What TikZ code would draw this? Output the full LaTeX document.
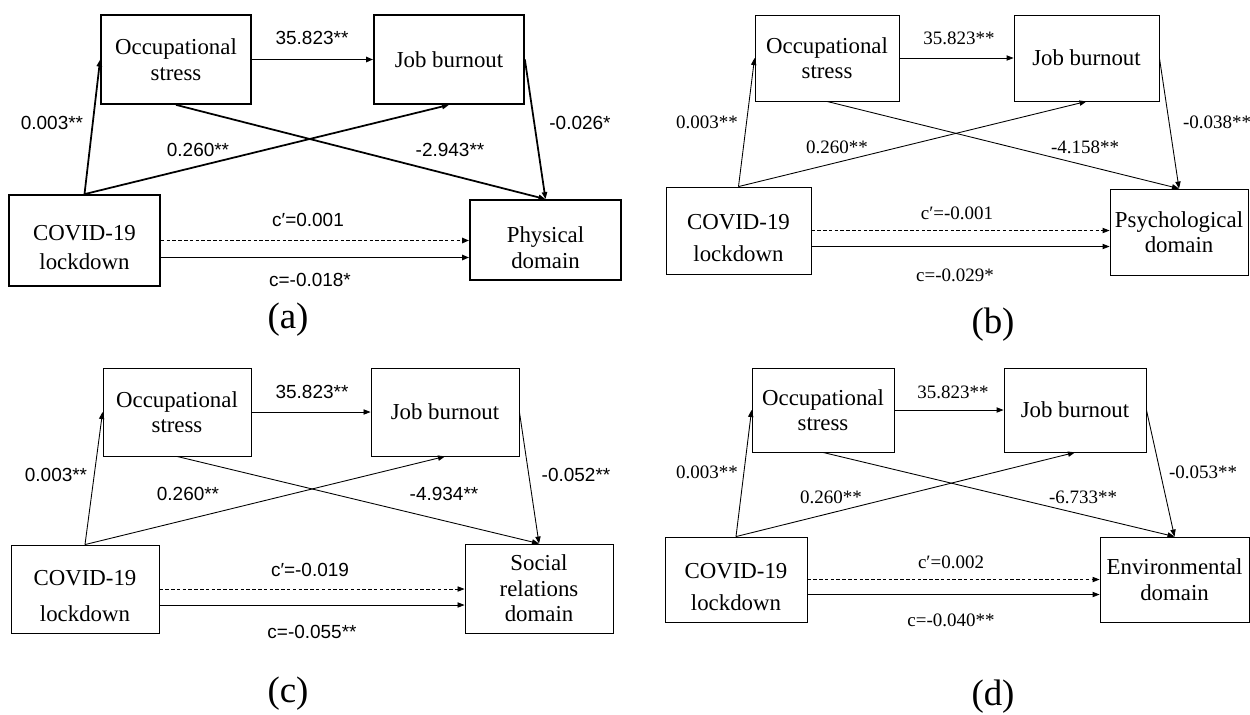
\documentclass[tikz,border=0pt]{standalone}
\usepackage{fontspec}
\setmainfont{Liberation Serif}
\newfontfamily\arialfont{Liberation Sans}
\usetikzlibrary{arrows.meta}
\newcommand\lowtext[1]{\rule{0pt}{#1pt}}
\tikzset{
  box/.style={draw, align=center, inner sep=0pt, font=\fontsize{13}{14.5}\selectfont},
  coef/.style={inner sep=1pt, font=\fontsize{10.8}{13}\selectfont},
  coefsans/.style={inner sep=1pt, font=\arialfont\fontsize{10.8}{13}\selectfont},
  arr/.style={-{Triangle[length=4pt,width=3pt]}},
  direct/.style={arr, dash pattern=on 2pt off 1.3pt},
  tag/.style={font=\fontsize{21}{24}\selectfont}
}
\begin{document}
\begin{tikzpicture}[x=0.02cm,y=-0.02cm]
\useasboundingbox (0,0) rectangle (1250,714);

\begin{scope}[line width=1pt]
  \node[box, minimum width=3cm, minimum height=1.78cm] (osA) at (176,59.5) {Occupational\\stress};
  \node[box, minimum width=3cm, minimum height=1.78cm] (jbA) at (449,59.5) {Job burnout};
  \node[box, minimum width=3.02cm, minimum height=1.82cm] (cvA) at (84.5,240.5) {\lowtext{17}COVID-19\\[2pt]lockdown};
  \node[box, minimum width=3.02cm, minimum height=1.6cm] (pdA) at (545.5,240) {\lowtext{18}Physical\\domain};
  \draw[arr] (cvA.north) -- (osA.west);
  \draw[arr] (osA.east) -- (jbA.west);
  \draw[arr] (cvA.north) -- (jbA.south);
  \draw[arr] (osA.south) -- (pdA.north);
  \draw[arr] (jbA.east) -- (pdA.north);
  \draw[direct] (cvA.east) -- (cvA.east -| pdA.west);
  \draw[arr] ([yshift=-0.34cm]cvA.east) -- ([yshift=-0.34cm]cvA.east -| pdA.west);
  \node[coefsans] (kA1) at (312,38) {35.823**};
  \node[coefsans] (kA2) at (52,123) {0.003**};
  \node[coefsans] (kA3) at (198,150) {0.260**};
  \node[coefsans] (kA4) at (450,150) {-2.943**};
  \node[coefsans] (kA5) at (580,123) {-0.026*};
  \node[coefsans] (kA6) at (308,220) {c′=0.001};
  \node[coefsans] (kA7) at (310,280) {c=-0.018*};
  \node[tag] (tagA) at (288,320) {(a)};
\end{scope}

\begin{scope}[line width=0.5pt]
  \node[box, minimum width=2.88cm, minimum height=1.72cm] (osB) at (827,58) {Occupational\\stress};
  \node[box, minimum width=2.9cm, minimum height=1.72cm] (jbB) at (1086.5,58) {Job burnout};
  \node[box, minimum width=2.9cm, minimum height=1.74cm] (cvB) at (738.5,230.5) {\lowtext{17}COVID-19\\[4pt]lockdown};
  \node[box, minimum width=2.76cm, minimum height=1.72cm] (pdB) at (1179,232) {Psychological\\domain};
  \draw[arr] (cvB.north) -- (osB.west);
  \draw[arr] (osB.east) -- (jbB.west);
  \draw[arr] (cvB.north) -- (jbB.south);
  \draw[arr] (osB.south) -- (pdB.north);
  \draw[arr] (jbB.east) -- (pdB.north);
  \draw[direct] (cvB.east) -- (cvB.east -| pdB.west);
  \draw[arr] ([yshift=-0.32cm]cvB.east) -- ([yshift=-0.32cm]cvB.east -| pdB.west);
  \node[coef] (kB1) at (959,38) {35.823**};
  \node[coef] (kB2) at (707,122) {0.003**};
  \node[coef] (kB3) at (837,147) {0.260**};
  \node[coef] (kB4) at (1085,147) {-4.158**};
  \node[coef] (kB5) at (1217,122) {-0.038**};
  \node[coef] (kB6) at (957,213) {c′=-0.001};
  \node[coef] (kB7) at (955,275) {c=-0.029*};
  \node[tag] (tagB) at (993,325) {(b)};
\end{scope}

\begin{scope}[line width=0.5pt]
  \node[box, minimum width=2.96cm, minimum height=1.76cm] (osC) at (177,412) {Occupational\\stress};
  \node[box, minimum width=2.96cm, minimum height=1.76cm] (jbC) at (445,412) {Job burnout};
  \node[box, minimum width=2.96cm, minimum height=1.76cm] (cvC) at (85,589) {\lowtext{17}COVID-19\\[6pt]lockdown};
  \node[box, minimum width=2.96cm, minimum height=1.78cm] (pdC) at (539,588.5) {Social\\relations\\domain};
  \draw[arr] (cvC.north) -- (osC.west);
  \draw[arr] (osC.east) -- (jbC.west);
  \draw[arr] (cvC.north) -- (jbC.south);
  \draw[arr] (osC.south) -- (pdC.north);
  \draw[arr] (jbC.east) -- (pdC.north);
  \draw[direct] (cvC.east) -- (cvC.east -| pdC.west);
  \draw[arr] ([yshift=-0.32cm]cvC.east) -- ([yshift=-0.32cm]cvC.east -| pdC.west);
  \node[coefsans] (kC1) at (312,392) {35.823**};
  \node[coefsans] (kC2) at (56,475) {0.003**};
  \node[coefsans] (kC3) at (188,494) {0.260**};
  \node[coefsans] (kC4) at (444,494) {-4.934**};
  \node[coefsans] (kC5) at (576,475) {-0.052**};
  \node[coefsans] (kC6) at (310,570) {c′=-0.019};
  \node[coefsans] (kC7) at (312,632) {c=-0.055**};
  \node[tag] (tagC) at (288,694) {(c)};
\end{scope}

\begin{scope}[line width=0.5pt]
  \node[box, minimum width=2.84cm, minimum height=1.68cm] (osD) at (823,410) {Occupational\\stress};
  \node[box, minimum width=2.84cm, minimum height=1.68cm] (jbD) at (1075,410) {Job burnout};
  \node[box, minimum width=2.84cm, minimum height=1.7cm] (cvD) at (736,579.5) {\lowtext{17}COVID-19\\[4pt]lockdown};
  \node[box, minimum width=2.98cm, minimum height=1.7cm] (pdD) at (1174.5,579.5) {Environmental\\domain};
  \draw[arr] (cvD.north) -- (osD.west);
  \draw[arr] (osD.east) -- (jbD.west);
  \draw[arr] (cvD.north) -- (jbD.south);
  \draw[arr] (osD.south) -- (pdD.north);
  \draw[arr] (jbD.east) -- (pdD.north);
  \draw[direct] (cvD.east) -- (cvD.east -| pdD.west);
  \draw[arr] ([yshift=-0.3cm]cvD.east) -- ([yshift=-0.3cm]cvD.east -| pdD.west);
  \node[coef] (kD1) at (953,392) {35.823**};
  \node[coef] (kD2) at (707,472) {0.003**};
  \node[coef] (kD3) at (831,497) {0.260**};
  \node[coef] (kD4) at (1083,497) {-6.733**};
  \node[coef] (kD5) at (1203,472) {-0.053**};
  \node[coef] (kD6) at (951,562) {c′=0.002};
  \node[coef] (kD7) at (951,620) {c=-0.040**};
  \node[tag] (tagD) at (993,697) {(d)};
\end{scope}
\end{tikzpicture}
\end{document}
